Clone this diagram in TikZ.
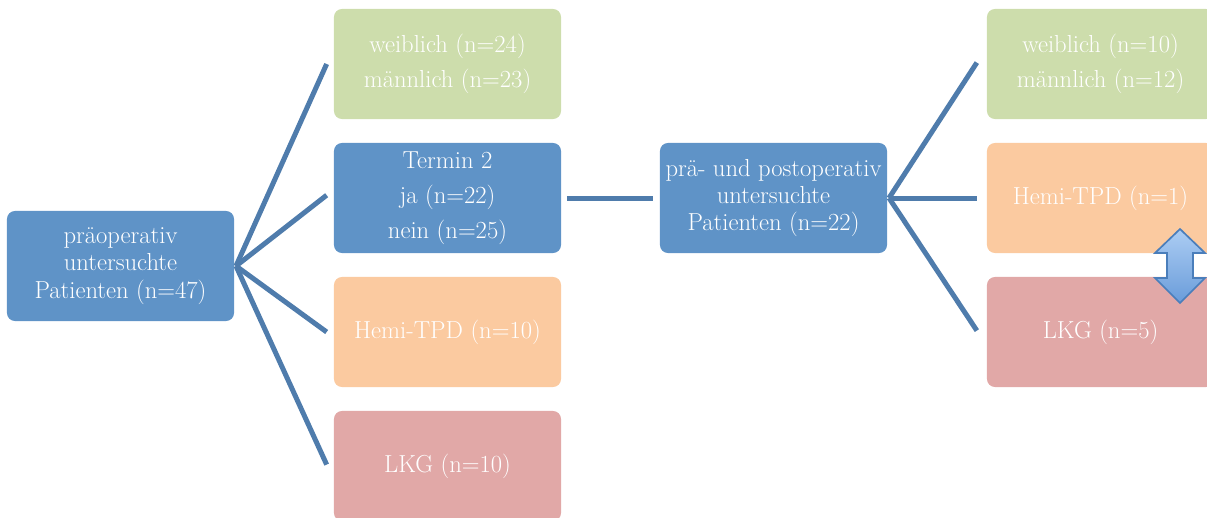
\documentclass[tikz,border=0pt]{standalone}
\usepackage{tikz}

\definecolor{boxblue}{HTML}{5F93C7}
\definecolor{lineblue}{HTML}{4F7CAC}
\definecolor{boxgreen}{HTML}{CDDDAC}
\definecolor{boxorange}{HTML}{FBCAA0}
\definecolor{boxred}{HTML}{E1A8A7}
\definecolor{arrowtop}{HTML}{ACCDF3}
\definecolor{arrowbot}{HTML}{6A9CDA}
\definecolor{arrowline}{HTML}{4A7EBB}

\tikzset{
  box/.style={rounded corners=0.2cm, minimum width=5.675cm, minimum height=2.75cm,
    inner sep=0pt, text=white, align=center, font=\fontsize{17.5}{19.5}\selectfont},
  conn/.style={draw=lineblue, line width=0.125cm},
}

\begin{document}
\begin{tikzpicture}[x=0.025cm,y=-0.025cm]
		\path[use as bounding box, clip] (0,0) rectangle (1207,518);
		% linke Seite
		\node[box, fill=boxblue] (P) at (120.5,266) {präoperativ\\untersuchte\\Patienten (n=47)};
		\node[box, fill=boxgreen] (G) at (447.5,64) {weiblich (n=24)\\[5.3pt]männlich (n=23)};
		\node[box, fill=boxblue] (T) at (447.5,198) {Termin 2\\[5.3pt]ja (n=22)\\[5.3pt]nein (n=25)};
		\node[box, fill=boxorange] (H) at (447.5,332) {Hemi-TPD (n=10)};
		\node[box, fill=boxred] (L) at (447.5,466) {LKG (n=10)};
		% rechte Seite
		\node[box, fill=boxblue] (Q) at (773.5,198) {prä- und postoperativ\\untersuchte\\Patienten (n=22)};
		\node[box, fill=boxgreen] (G2) at (1100.5,64) {weiblich (n=10)\\[5.3pt]männlich (n=12)};
		\node[box, fill=boxorange] (H2) at (1100.5,198) {Hemi-TPD (n=1)};
		\node[box, fill=boxred] (L2) at (1100.5,332) {LKG (n=5)};
		\coordinate (p) at (236,266);
		\coordinate (q) at (889,198);
		\draw[conn] (p) -- ([xshift=-5]G.west);
		\draw[conn] (p) -- ([xshift=-5,yshift=2]T.west);
		\draw[conn] (p) -- ([xshift=-5]H.west);
		\draw[conn] (p) -- ([xshift=-5,yshift=1]L.west);
		\draw[conn] ([xshift=4]T.east) -- ([xshift=-5]Q.west);
		\draw[conn] (q) -- ([xshift=-7,yshift=1]G2.west);
		\draw[conn] (q) -- ([xshift=-7]H2.west);
		\draw[conn] (q) -- ([xshift=-7,yshift=1]L2.west);
		% Doppelpfeil
		\shade[top color=arrowtop, bottom color=arrowbot, draw=arrowline, line width=1.2pt, line join=miter]
		  (1180,229) -- (1205,253) -- (1193,253) -- (1193,278) -- (1205,278) -- (1180,303)
		  -- (1155,278) -- (1167,278) -- (1167,253) -- (1155,253) -- cycle;
		\end{tikzpicture}
\end{document}
